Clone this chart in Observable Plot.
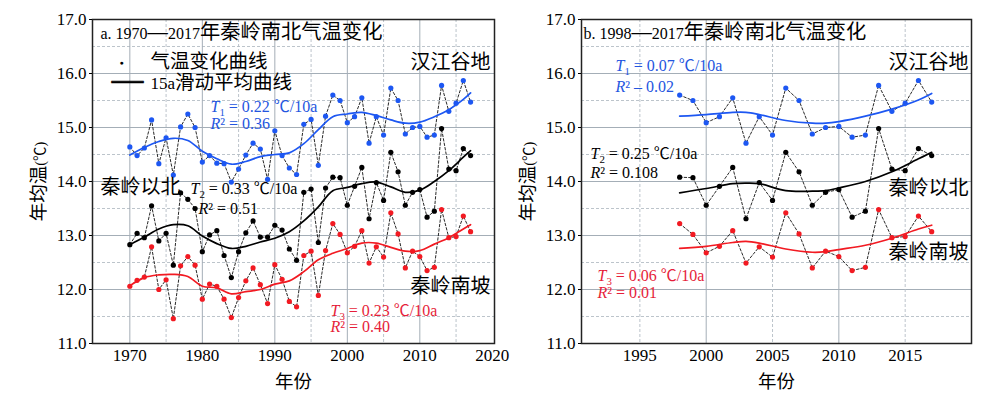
<!DOCTYPE html>
<html><head><meta charset="utf-8">
<script src="https://cdn.jsdelivr.net/npm/d3@7"></script>
<script src="https://cdn.jsdelivr.net/npm/@observablehq/plot@0.6"></script>
<style>
body{margin:0;background:#fff;}
#wrap{position:relative;width:1000px;height:395px;overflow:hidden;background:#fff;}
#wrap svg{position:absolute;top:0;}
</style></head><body><div id="wrap"></div>
<script>
// ---------- data ----------
const years = [1970,1971,1972,1973,1974,1975,1976,1977,1978,1979,1980,1981,1982,1983,1984,1985,1986,1987,1988,1989,
  1990,1991,1992,1993,1994,1995,1996,1997,1998,1999,2000,2001,2002,2003,2004,2005,2006,2007,2008,2009,
  2010,2011,2012,2013,2014,2015,2016,2017];
const hanjiang = [14.64,14.48,14.62,15.14,14.33,14.81,14.12,15.01,15.25,15.00,14.36,14.48,14.34,14.33,13.99,14.23,14.49,14.71,14.60,14.04,
  14.94,14.48,14.25,14.13,15.06,15.15,14.30,15.21,15.60,15.50,15.09,15.20,15.55,14.71,15.20,14.86,15.73,15.50,14.88,15.00,
  15.02,14.82,14.86,15.78,15.30,15.45,15.87,15.47];
const qinNorth = [12.83,13.04,12.96,13.55,12.90,13.04,12.45,13.79,13.67,13.50,12.70,13.01,13.09,12.63,12.22,12.70,13.05,13.27,12.97,12.97,
  13.19,13.10,12.75,12.54,13.80,13.86,12.87,13.88,14.08,14.07,13.56,13.91,14.26,13.31,13.98,13.65,14.54,14.18,13.56,13.80,
  13.85,13.34,13.45,14.98,14.23,14.20,14.61,14.48];
const qinSouth = [12.06,12.17,12.23,12.79,12.00,12.18,11.46,12.44,12.61,12.45,11.82,12.10,12.06,11.82,11.48,11.85,12.16,12.40,12.09,11.74,
  12.46,12.19,11.78,11.68,12.63,12.71,11.89,12.72,13.22,13.02,12.68,12.80,13.09,12.49,12.79,12.60,13.42,13.03,12.40,12.71,
  12.61,12.35,12.41,13.48,12.96,12.98,13.36,13.07];

// 15a smoothed curves (panel a, 1970-2017)
const smoothYearsA = [1970,1972,1974,1976,1978,1980,1982,1984,1986,1988,1990,1992,1994,1996,1998,2000,2002,2004,2006,2008,2010,2012,2014,2016,2017];
const smoothHanA   = [14.49,14.63,14.74,14.80,14.76,14.56,14.42,14.32,14.37,14.46,14.50,14.53,14.70,14.96,15.20,15.25,15.28,15.22,15.14,15.08,15.10,15.20,15.33,15.52,15.64];
const smoothNorthA = [12.83,12.97,13.12,13.20,13.18,12.99,12.85,12.76,12.80,12.88,12.95,13.07,13.27,13.53,13.83,13.89,13.96,13.99,13.90,13.80,13.84,14.00,14.20,14.45,14.57];
const smoothSouthA = [12.07,12.22,12.27,12.28,12.24,12.06,12.03,11.92,11.96,12.00,12.10,12.16,12.33,12.55,12.67,12.76,12.86,12.86,12.78,12.71,12.72,12.84,12.96,13.12,13.20];

// smoothed curves of panel b (1998-2017)
const smoothYearsB = [1998,2000,2002,2003,2004,2006,2008,2009,2010,2012,2014,2016,2017];
const smoothHanB   = [15.21,15.24,15.28,15.28,15.24,15.13,15.08,15.08,15.11,15.21,15.34,15.51,15.63];
const smoothNorthB = [13.79,13.87,13.96,13.97,13.96,13.83,13.82,13.83,13.88,14.00,14.18,14.42,14.54];
const smoothSouthB = [12.76,12.80,12.87,12.89,12.86,12.75,12.69,12.70,12.74,12.82,12.95,13.12,13.19];

const regions = ["汉江谷地","秦岭以北","秦岭南坡"];
const yTicks = [11,12,13,14,15,16,17];
const yHalfTicks = [11.5,12.5,13.5,14.5,15.5,16.5];
const xTicksA = [1970,1980,1990,2000,2010,2020];
const xMajorA = [1970,1980,1990,2000,2010];
const xMinorA = [1975,1985,1995,2005,2015];
const xTicksB = [1995,2000,2005,2010,2015];
const xMajorB = [2000,2010];
const xMinorB = [1995,2005,2015];

// ---------- styling ----------
const SERIF = "'Liberation Serif','Times New Roman','Noto Sans CJK SC',serif";
const CJKF = "'Noto Sans CJK SC','Liberation Serif',sans-serif";
const BLUE = "#1d57f2", RED = "#f21a22", BLACK = "#000000";
const BLUE_T = "#2456e0", RED_T = "#e61e3a";
const colorOf = {"汉江谷地": BLUE, "秦岭以北": BLACK, "秦岭南坡": RED};

function records(yrs, vals, region) { return yrs.map((y, i) => ({year: y, value: vals[i], region})); }
const obsA = [...records(years, hanjiang, regions[0]), ...records(years, qinNorth, regions[1]), ...records(years, qinSouth, regions[2])];
const obsB = obsA.filter(d => d.year >= 1998);
const smA = [...records(smoothYearsA, smoothHanA, regions[0]), ...records(smoothYearsA, smoothNorthA, regions[1]), ...records(smoothYearsA, smoothSouthA, regions[2])];
const smB = [...records(smoothYearsB, smoothHanB, regions[0]), ...records(smoothYearsB, smoothNorthB, regions[1]), ...records(smoothYearsB, smoothSouthB, regions[2])];

const cjkSize = new Map();
function label(text, dx, dy, o = {}) {
  cjkSize.set(text, o.cjk || 20);
  return Plot.text([text], {
    text: d => d, frameAnchor: o.anchor || "top-left", textAnchor: o.textAnchor || "start",
    lineAnchor: "middle", dx, dy, fill: o.fill || "black", fontSize: o.fontSize || 16,
    fontFamily: SERIF, fontWeight: o.fontWeight || "normal", rotate: o.rotate || 0,
    stroke: o.stroke, strokeWidth: o.strokeWidth
  });
}

function panel({obs, sm, xDomain, xTicks, xMajor, xMinor, marginLeft, marginRight, notes}) {
  return Plot.plot({
    width: 500, height: 395, marginLeft, marginRight, marginTop: 19, marginBottom: 52,
    x: {domain: xDomain}, y: {domain: [11, 17]},
    color: {type: "identity"},
    style: {background: "none", fontFamily: SERIF, fontSize: "17px", overflow: "visible"},
    marks: [
      Plot.ruleY(yHalfTicks, {stroke: "#b4bdc5", strokeWidth: 0.9, strokeDasharray: "3,2"}),
      Plot.ruleY(yTicks, {stroke: "#a4aeb7", strokeWidth: 1}),
      Plot.ruleX(xMinor, {stroke: "#b4bdc5", strokeWidth: 0.9, strokeDasharray: "3,2"}),
      Plot.ruleX(xMajor, {stroke: "#a4aeb7", strokeWidth: 1}),
      Plot.line(obs, {x: "year", y: "value", z: "region", stroke: "#111", strokeWidth: 0.9, strokeDasharray: "2.5,2"}),
      Plot.line(sm, {x: "year", y: "value", z: "region", stroke: d => colorOf[d.region], strokeWidth: 1.7, curve: "catmull-rom"}),
      Plot.dot(obs, {x: "year", y: "value", fill: d => colorOf[d.region], r: 2.6}),
      Plot.frame({stroke: "#222", strokeWidth: 1.5}),
      Plot.axisY({ticks: yTicks, tickFormat: d3.format(".1f"), tickSize: 3, tickPadding: 3, label: null, fontFamily: SERIF, fontSize: 17}),
      Plot.axisX({ticks: xTicks, tickFormat: d => String(d), tickSize: 0, tickPadding: 5, label: null, fontFamily: SERIF, fontSize: 17}),
      label("年均温(℃)", -52, 0, {anchor: "left", textAnchor: "middle", rotate: -90, fontSize: 14.5, cjk: 18.5}),
      label("年份", 0, 40, {anchor: "bottom", textAnchor: "middle", fontSize: 14.5, cjk: 18.5}),
      ...notes
    ]
  });
}

// rich text: {x} italic, _x subscript, CJK runs in a CJK font at their own size
function richify(svg) {
  const NS = "http://www.w3.org/2000/svg";
  const cjk = /[\u2014\u3000-\u9fff\uff00-\uffef]/;
  svg.querySelectorAll("text").forEach(t => {
    if (t.querySelector("tspan")) return;
    const s = t.textContent;
    if (!/[{}_]/.test(s) && !cjk.test(s)) return;
    const size = cjkSize.get(s) || 20;
    t.textContent = "";
    let cur = 0;
    const add = (str, attrs, off) => {
      const ts = document.createElementNS(NS, "tspan");
      for (const k in attrs) ts.setAttribute(k, attrs[k]);
      if (off !== cur) { ts.setAttribute("dy", off - cur); cur = off; }
      ts.textContent = str;
      t.appendChild(ts);
    };
    const re = /\{([^}]*)\}|_(.)|([\u2014\u3000-\u9fff\uff00-\uffef]+)|([^{_\u2014\u3000-\u9fff\uff00-\uffef]+)/g;
    let m;
    while ((m = re.exec(s))) {
      if (m[1] != null) add(m[1], {"font-style": "italic"}, 0);
      else if (m[2] != null) add(m[2], {"font-size": "0.68em"}, 4);
      else if (m[3] != null) add(m[3], {"font-size": size + "px", "font-family": m[3] === "—" ? SERIF : CJKF}, 0);
      else add(m[4], {}, 0);
    }
  });
}

const notesA = [
  label("a. 1970—2017年秦岭南北气温变化", 8, 14, {fontSize: 16, cjk: 20.3}),
  label("汉江谷地", -4, 44, {anchor: "top-right", textAnchor: "end"}),
  label("●", 29, 43, {textAnchor: "middle", fontSize: 7}),
  label("气温变化曲线", 58, 43, {cjk: 19.5}),
  label("——", 35, 64, {textAnchor: "middle", fontSize: 14, fontWeight: "bold", stroke: "black", strokeWidth: 0.6}),
  label("15a滑动平均曲线", 58, 64, {fontSize: 17, cjk: 19.5}),
  label("{T}_1 = 0.22 ℃/10a", 118, 87, {fill: BLUE_T}),
  label("{R}² = 0.36", 118, 104, {fill: BLUE_T}),
  label("秦岭以北", 8, 169),
  label("{T}_2 = 0.33 ℃/10a", 98, 169),
  label("{R}² = 0.51", 106, 189),
  label("秦岭南坡", -4, 268, {anchor: "top-right", textAnchor: "end"}),
  label("{T}_3 = 0.23 ℃/10a", 238, 291, {fill: RED_T}),
  label("{R}² = 0.40", 238, 307, {fill: RED_T})
];
const notesB = [
  label("b. 1998—2017年秦岭南北气温变化", 2, 14, {fontSize: 16, cjk: 20.3}),
  label("汉江谷地", -3, 44, {anchor: "top-right", textAnchor: "end"}),
  label("{T}_1 = 0.07 ℃/10a", 34, 46, {fill: BLUE_T}),
  label("{R}² – 0.02", 34, 67, {fill: BLUE_T}),
  label("{T}_2 = 0.25 ℃/10a", 9, 134),
  label("{R}² = 0.108", 9, 153),
  label("秦岭以北", -3, 170, {anchor: "top-right", textAnchor: "end"}),
  label("秦岭南坡", -3, 234, {anchor: "top-right", textAnchor: "end"}),
  label("{T}_3 = 0.06 ℃/10a", 16, 256, {fill: RED_T}),
  label("{R}² = 0.01", 16, 273, {fill: RED_T})
];

const wrap = document.getElementById("wrap");
const a = panel({obs: obsA, sm: smA, xDomain: [1964.85, 2020.3], xTicks: xTicksA, xMajor: xMajorA, xMinor: xMinorA,
  marginLeft: 92, marginRight: 6, notes: notesA});
a.style.left = "0px";
const b = panel({obs: obsB, sm: smB, xDomain: [1990.6, 2020], xTicks: xTicksB, xMajor: xMajorB, xMinor: xMinorB,
  marginLeft: 81, marginRight: 29, notes: notesB});
b.style.left = "500px";
wrap.appendChild(a); wrap.appendChild(b);
richify(a); richify(b);
</script></body></html>
